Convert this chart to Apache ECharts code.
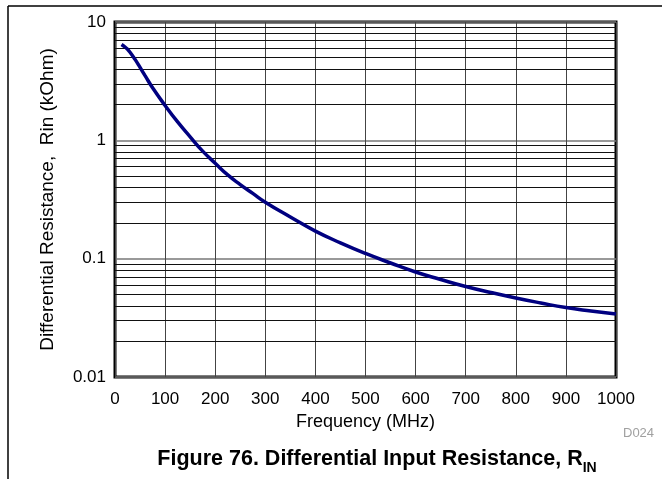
<!DOCTYPE html>
<html>
<head>
<meta charset="utf-8">
<script src="https://cdn.jsdelivr.net/npm/echarts@6/dist/echarts.min.js"></script>
<style>
  html, body { margin: 0; padding: 0; background: #fff; }
  #chart { width: 671px; height: 479px; }
</style>
</head>
<body>
<div id="chart"></div>
<script>
// frequency (MHz) and differential input resistance (kOhm)
var freqMHz = [13, 20, 25, 30, 40, 50, 60, 75, 100, 125, 150, 175, 200, 225, 250, 275, 300, 350,
  400, 450, 500, 550, 600, 650, 700, 750, 800, 850, 900, 950, 1000];
var rinKOhm = [6.46, 6.15, 5.87, 5.55, 4.83, 4.13, 3.52, 2.78, 1.97, 1.43, 1.07, 0.81, 0.64,
  0.51, 0.423, 0.356, 0.3, 0.225, 0.171, 0.136, 0.1106, 0.0919, 0.0771, 0.0667, 0.0582, 0.0518,
  0.0465, 0.0422, 0.0386, 0.0361, 0.034];

// minor horizontal grid lines (2..9 in each decade)
var decades = [0.01, 0.1, 1];
var minorGrid = [];
decades.forEach(function (d) {
  for (var k = 2; k <= 9; k++) minorGrid.push(+(d * k).toPrecision(3));
});

var FONT = 'Liberation Sans';

var chart = echarts.init(document.getElementById('chart'));

var option = {
  animation: false,
  backgroundColor: '#fff',
  textStyle: { fontFamily: FONT },
  grid: {
    left: 115, right: 55, top: 22, bottom: 102,
    show: true,
    borderColor: '#000',
    borderWidth: 3
  },
  title: [
    {
      text: '{b|Figure 76. Differential Input Resistance, R}{s|IN}',
      left: 372,
      top: 441,
      textAlign: 'center',
      textStyle: {
        rich: {
          b: { fontFamily: FONT, fontWeight: 'bold', fontSize: 21.5, color: '#000', lineHeight: 24, verticalAlign: 'bottom' },
          s: { fontFamily: FONT, fontWeight: 'bold', fontSize: 14, color: '#000', lineHeight: 24, verticalAlign: 'bottom', padding: [0, 0, -5, 0] }
        }
      }
    },
    {
      text: 'D024',
      left: 618,
      top: 422,
      textStyle: { fontFamily: FONT, fontWeight: 'normal', fontSize: 13, color: '#a0a0a0' }
    }
  ],
  xAxis: {
    type: 'value',
    min: 0,
    max: 1000,
    interval: 100,
    name: 'Frequency (MHz)',
    nameLocation: 'middle',
    nameGap: 33,
    nameTextStyle: { fontFamily: FONT, fontSize: 18, color: '#000' },
    axisLine: { show: false },
    axisTick: { show: false },
    axisLabel: {
      fontFamily: FONT, fontSize: 17, color: '#000', margin: 14,
      formatter: function (v) { return String(v); }
    },
    splitLine: { show: true, lineStyle: { color: '#444', width: 1 } }
  },
  yAxis: {
    type: 'log',
    logBase: 10,
    min: 0.01,
    max: 10,
    name: 'Differential Resistance,  Rin (kOhm)',
    nameLocation: 'middle',
    nameGap: 58,
    nameTextStyle: { fontFamily: FONT, fontSize: 19, color: '#000' },
    axisLine: { show: false },
    axisTick: { show: false },
    axisLabel: {
      fontFamily: FONT, fontSize: 17, color: '#000', margin: 9,
      formatter: function (v) { return String(+v.toPrecision(3)); }
    },
    splitLine: { show: true, lineStyle: { color: '#777', width: 1.5 } }
  },
  series: [
    {
      type: 'line',
      data: [],
      silent: true,
      markLine: {
        silent: true,
        symbol: 'none',
        label: { show: false },
        lineStyle: { color: '#111', width: 1, type: 'solid' },
        data: minorGrid.map(function (v) { return { yAxis: v }; })
      }
    },
    {
      name: 'Rin',
      type: 'line',
      smooth: 0.5,
      showSymbol: false,
      data: freqMHz.map(function (f, i) { return [f, rinKOhm[i]]; }),
      lineStyle: { color: '#000080', width: 3.5 },
      z: 5
    }
  ],
  graphic: [
    { type: 'line', shape: { x1: 8, y1: 6, x2: 8, y2: 479 }, style: { stroke: '#000', lineWidth: 1.5 } },
    { type: 'line', shape: { x1: 8, y1: 6, x2: 662, y2: 6 }, style: { stroke: '#000', lineWidth: 1.5 } }
  ]
};

chart.setOption(option);
</script>
</body>
</html>
